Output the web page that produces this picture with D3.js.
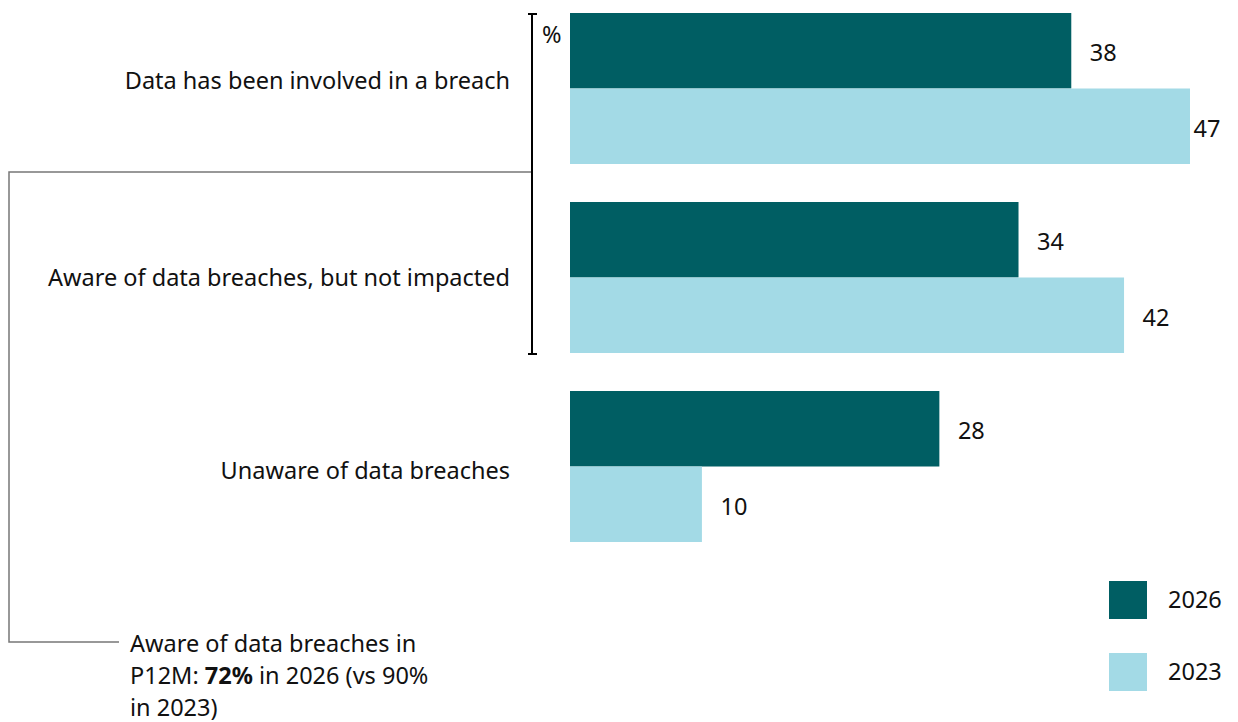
<!DOCTYPE html>
<html>
<head>
<meta charset="utf-8">
<script src="https://cdn.jsdelivr.net/npm/d3@7/dist/d3.min.js"></script>
<style>
  html, body { margin: 0; padding: 0; background: #ffffff; }
  svg { display: block; font-family: "Source Sans Pro", "Noto Sans", sans-serif; }
</style>
</head>
<body>
<svg id="chart" width="1238" height="722"></svg>
<script>
// Survey categories and shares (%) per wave
const categories = [
  "Data has been involved in a breach",
  "Aware of data breaches, but not impacted",
  "Unaware of data breaches"
];
const years = ["2026", "2023"];
const values2026 = [38, 34, 28];
const values2023 = [47, 42, 10];
const colors = ["#005e63", "#a3dae6"];

const svg = d3.select("#chart");
const W = 1238;
const FS = 23.5;

// horizontal value scale: 0 at the bar baseline
const x = d3.scaleLinear().domain([0, 47]).range([570, 1190]);

const rows = categories.map((c, i) => ({
  cat: c,
  vals: [{ year: "2026", v: values2026[i] }, { year: "2023", v: values2023[i] }]
}));

// category bands (two 75.5px bars per group, 38px gap between groups) and year sub-bands
const yb = d3.scaleBand().domain(categories).range([13, 13 + 3 * 189 - 38]).paddingInner(38 / 189).paddingOuter(0);
const yy = d3.scaleBand().domain(years).range([0, yb.bandwidth()]);

const g = svg.append("g");
const groups = g.selectAll("g.row").data(rows).join("g")
  .attr("class", "row")
  .attr("transform", d => `translate(0,${yb(d.cat)})`);

groups.selectAll("rect").data(d => d.vals).join("rect")
  .attr("x", x(0))
  .attr("y", d => yy(d.year))
  .attr("width", d => x(d.v) - x(0))
  .attr("height", yy.bandwidth())
  .attr("fill", d => colors[years.indexOf(d.year)]);

groups.selectAll("text.val").data(d => d.vals).join("text")
  .attr("class", "val")
  .attr("x", d => Math.min(x(d.v) + 32, W - 31))
  .attr("y", d => yy(d.year) + yy.bandwidth() / 2 + 2)
  .attr("dy", "0.36em")
  .attr("text-anchor", "middle")
  .attr("font-size", FS)
  .attr("fill", "#111")
  .text(d => d.v);

// category labels
svg.selectAll("text.cat").data(categories).join("text")
  .attr("class", "cat")
  .attr("x", 510)
  .attr("y", (d, i) => yb(d) + yb.bandwidth() / 2 - (i === 0 ? 8 : 0) + (i === 2 ? 4 : 0))
  .attr("dy", "0.36em")
  .attr("text-anchor", "end")
  .attr("font-size", FS)
  .attr("fill", "#111")
  .text(d => d);

// bracket spanning the "aware" categories
const bx = 532;
const bTop = yb(categories[0]);
const bBot = yb(categories[1]) + yb.bandwidth() + 1;
svg.append("path")
  .attr("d", `M${bx - 4},${bTop + 1}H${bx + 5}M${bx},${bTop + 1}V${bBot}M${bx - 4},${bBot}H${bx + 5}`)
  .attr("stroke", "#000").attr("stroke-width", 2).attr("fill", "none");
svg.append("text")
  .attr("x", 542).attr("y", 35).attr("dy", "0.36em")
  .attr("font-size", FS).attr("fill", "#111").text("%");

// connector from bracket to annotation
const joinY = 172;
svg.append("path")
  .attr("d", `M${bx - 1},${joinY}H9V642H119`)
  .attr("stroke", "#777").attr("stroke-width", 1.5).attr("fill", "none");

// annotation
const note = svg.append("text").attr("font-size", FS).attr("fill", "#111");
note.append("tspan").attr("x", 130).attr("y", 652).text("Aware of data breaches in");
const l2 = note.append("tspan").attr("x", 130).attr("y", 684);
l2.append("tspan").text("P12M: ");
l2.append("tspan").attr("font-weight", "bold").text("72%");
l2.append("tspan").text(" in 2026 (vs 90%");
note.append("tspan").attr("x", 130).attr("y", 716).text("in 2023)");

// legend
const legend = svg.append("g");
const ly = d3.scalePoint().domain(years).range([600, 672]);
legend.selectAll("rect").data(years).join("rect")
  .attr("x", 1109).attr("y", d => ly(d) - 19)
  .attr("width", 38).attr("height", 38)
  .attr("fill", (d, i) => colors[i]);
legend.selectAll("text").data(years).join("text")
  .attr("x", 1168).attr("y", d => ly(d)).attr("dy", "0.36em")
  .attr("font-size", FS).attr("fill", "#111")
  .text(d => d);
</script>
</body>
</html>
